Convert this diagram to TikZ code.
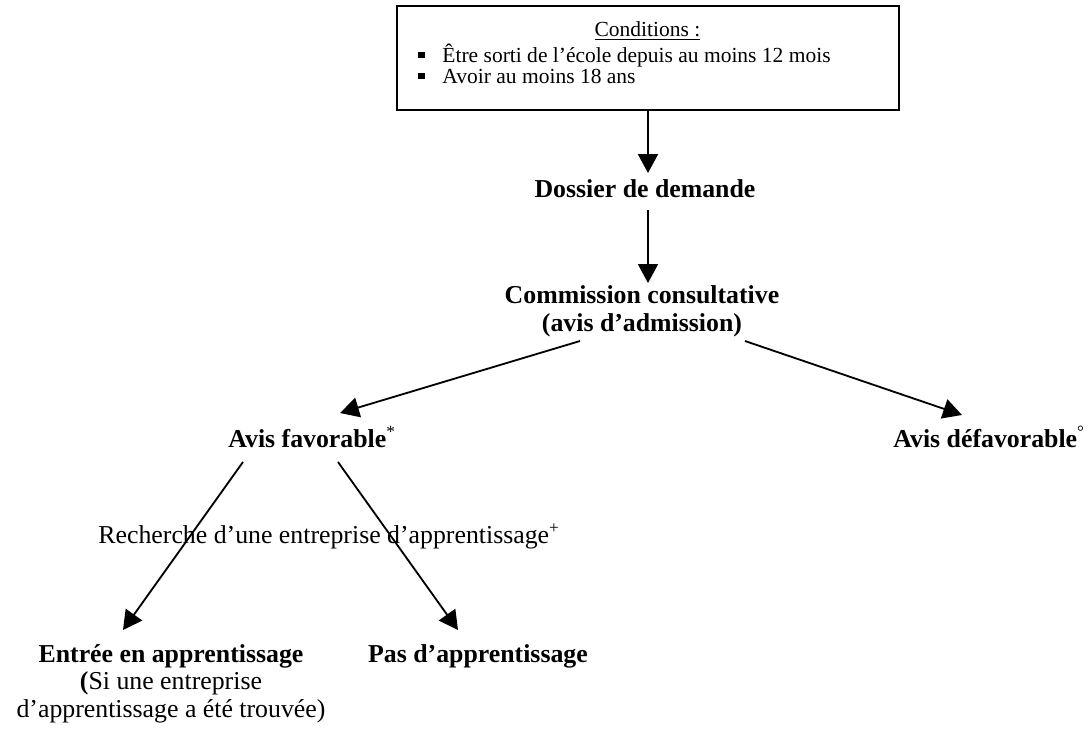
\documentclass[tikz,border=0pt]{standalone}
\usepackage{fontspec}
\setmainfont{Liberation Serif}
\usetikzlibrary{arrows.meta,calc}
\begin{document}
\begin{tikzpicture}[x=0.465pt,y=-0.465pt,
  arr/.style={-{Triangle[length=8.8pt,width=9.3pt]}, line width=0.85pt},
  boxstyle/.style={draw, line width=0.9pt, inner sep=0pt, minimum width=233.4pt, minimum height=48.4pt},
  smalltext/.style={font=\fontsize{10}{11}\selectfont, inner sep=0pt},
  bigtext/.style={font=\fontsize{12}{12.8}\selectfont, inner sep=0pt},
  boldtext/.style={font=\fontsize{12}{13.2}\selectfont\bfseries, inner sep=0pt},
  sq/.style={fill=black, minimum size=3.1pt, inner sep=0pt}]
\fill[white] (0,0) rectangle (1088,730);
\useasboundingbox (0,0) rectangle (1088,730);

% top box
\node[boxstyle] (box) at (648,58) {};
\node[smalltext, anchor=base] (cond) at (647.5,36) {\underline{Conditions :}};
\node[sq] (sq1) at (421.5,55) {};
\node[sq] (sq2) at (421.5,76) {};
\node[smalltext, anchor=base west] (b1) at (442,62) {Être sorti de l’école depuis au moins 12 mois};
\node[smalltext, anchor=base west] (b2) at (442,83) {Avoir au moins 18 ans};

% main nodes
\node[boldtext, anchor=base] (dossier) at (645,197) {Dossier de demande};
\node[boldtext, anchor=base] (commission) at (642,303)
  {\begin{tabular}[t]{@{}c@{}}Commission consultative\\(avis d’admission)\end{tabular}};
\node[boldtext, anchor=base west] (fav) at (228,447) {Avis favorable\textsuperscript{\mdseries*}};
\node[boldtext, anchor=base west] (defav) at (893,447) {Avis défavorable\textsuperscript{\mdseries°}};
\node[bigtext, anchor=base west] (recherche) at (98,543) {Recherche d’une entreprise d’apprentissage\textsuperscript{+}};
\node[bigtext, anchor=base] (entree) at (171,662)
  {\begin{tabular}[t]{@{}c@{}}\textbf{Entrée en apprentissage}\\\textbf{(}Si une entreprise\\d’apprentissage a été trouvée)\end{tabular}};
\node[boldtext, anchor=base] (pas) at (478,662) {Pas d’apprentissage};

% connectors
\draw[arr] (box.south) -- ($(dossier.base)+(3,-24)$);
\draw[arr] ($(dossier.base)+(3,13)$) -- ($(commission.base)+(6,-20)$);
\draw[arr] ($(commission.base)+(-62,38)$) -- ($(fav.base west)+(112,-34)$);
\draw[arr] ($(commission.base)+(103,38)$) -- ($(defav.base west)+(69,-32)$);
\draw[arr] ($(fav.base west)+(15,15)$) -- ($(entree.base)+(-48,-32)$);
\draw[arr] ($(fav.base west)+(110,15)$) -- ($(pas.base)+(-20,-32)$);
\end{tikzpicture}
\end{document}
